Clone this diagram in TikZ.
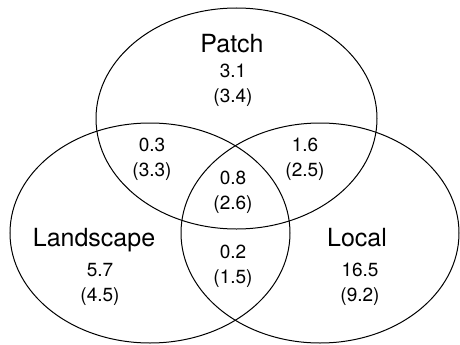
\documentclass[tikz,border=0pt]{standalone}
\usepackage{fontspec}
\setmainfont{TeX Gyre Heros}
\usetikzlibrary{shapes.geometric}
\begin{document}
\begin{tikzpicture}[x=1pt,y=-1pt,
  set/.style={draw=black,line width=1pt,ellipse,inner sep=0pt,
    minimum width=280pt,minimum height=220pt},
  setname/.style={anchor=base,inner sep=0pt,font=\fontsize{25}{30}\selectfont},
  count/.style={anchor=base,inner sep=0pt,align=center,
    font=\fontsize{19}{24.6}\selectfont}]
  \useasboundingbox (0,0) rectangle (460,345);
  % the three overlapping sets
  \node[set,minimum width=281pt,minimum height=221pt] (patch) at (236.5,118.5) {};
  \node[set] (landscape) at (150,233) {};
  \node[set,minimum width=278pt] (local) at (320,233) {};
  % set names
  \node[setname] (patchname) at (232,52.7) {Patch};
  \node[setname] (landname) at (94,246.7) {Landscape};
  \node[setname] (localname) at (357,246.7) {Local};
  % values in each region (placed at the baseline of the lower line)
  \node[count] (p) at (233,102.5) {3.1\\(3.4)};
  \node[count] (pl) at (152,176.5) {0.3\\(3.3)};
  \node[count] (po) at (305,176.5) {1.6\\(2.5)};
  \node[count] (plo) at (233,209.2) {0.8\\(2.6)};
  \node[count] (l) at (100,301) {5.7\\(4.5)};
  \node[count] (lo) at (233,283.5) {0.2\\(1.5)};
  \node[count] (o) at (360,301) {16.5\\(9.2)};
\end{tikzpicture}
\end{document}
